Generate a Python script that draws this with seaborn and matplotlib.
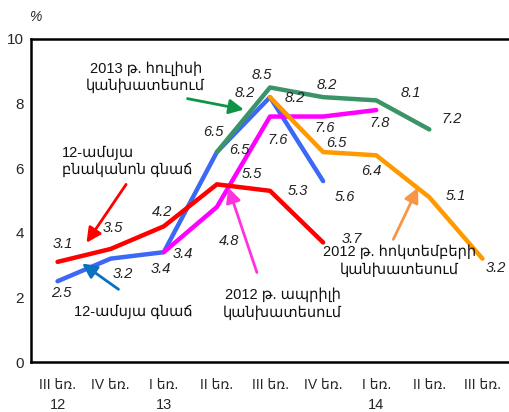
import pandas as pd
import numpy as np
import matplotlib
matplotlib.use('Agg')
import matplotlib.pyplot as plt
import matplotlib.transforms as mtransforms
import seaborn as sns

sns.set_style('white')
plt.rcParams['font.family'] = ['Liberation Sans', 'DejaVu Sans']

# --- data ---
quarters = ['III եռ.', 'IV եռ.', 'I եռ.', 'II եռ.', 'III եռ.',
            'IV եռ.', 'I եռ.', 'II եռ.', 'III եռ.']
years = {0: '12', 2: '13', 6: '14'}

core_x = [0, 1, 2, 3, 4, 5]
core_y = [3.1, 3.5, 4.2, 5.5, 5.3, 3.7]

cpi_x = [0, 1, 2, 3, 4, 5]
cpi_y = [2.5, 3.2, 3.4, 6.5, 8.2, 5.6]

apr12_x = [2, 3, 4, 5, 6]
apr12_y = [3.4, 4.8, 7.6, 7.6, 7.8]

jul13_x = [3, 4, 5, 6, 7]
jul13_y = [6.5, 8.5, 8.2, 8.1, 7.2]

oct12_x = [4, 5, 6, 7, 8]
oct12_y = [8.2, 6.5, 6.4, 5.1, 3.2]

series = [
    ('cpi', cpi_x, cpi_y, '#3d68f5'),
    ('apr12', apr12_x, apr12_y, '#ff00ff'),
    ('oct12', oct12_x, oct12_y, '#ff9900'),
    ('jul13', jul13_x, jul13_y, '#3a9467'),
    ('core', core_x, core_y, '#ff0000'),
]

# label offsets in pixels (dx, dy) for each point
offsets = {
    'core': [(5, 18), (2, 21), (-2, 14), (35, 10), (28, 0), (29, 3)],
    'cpi': [(4, -12), (12, -15), (-3, -17), (22, 2), (-25, 4), (22, -16)],
    'apr12': [(19, -2), (12, -34), (8, -23), (2, -11), (3, -13)],
    'jul13': [(-4, 20), (-8, 12), (4, 12), (35, 7), (22, 10)],
    'oct12': [(25, -1), (13, 9), (-5, -16), (27, 1), (13, -9)],
}

frames = []
for name, xs, ys, col in series:
    frames.append(pd.DataFrame({'q': xs, 'val': ys, 'series': name}))
df = pd.concat(frames, ignore_index=True)
palette = {name: col for name, xs, ys, col in series}

fig = plt.figure(figsize=(5.09, 4.12), dpi=100)
ax = fig.add_axes([31 / 509, 50 / 412, 478 / 509, 323 / 412])

sns.lineplot(data=df, x='q', y='val', hue='series', palette=palette,
             hue_order=[s[0] for s in series], linewidth=3.2, legend=False,
             sort=False, ax=ax)

for name, xs, ys, col in series:
    for (x, y), (dx, dy) in zip(zip(xs, ys), offsets[name]):
        ax.annotate(f'{y:.1f}', (x, y), xytext=(dx, dy), textcoords='offset pixels',
                    ha='center', va='center', fontsize=10.5, style='italic',
                    color='#222222')

# annotations with arrows
txt_kw = dict(fontsize=10.5, color='#111111', linespacing=1.25)
ax.text(1.66, 8.82, '2013 թ. հուլիսի\nկանխատեսում', ha='center', va='center',
        multialignment='center', **txt_kw)
ax.annotate('', xy=(3.56, 7.8), xytext=(2.395, 8.17),
            arrowprops=dict(arrowstyle='-|>', color='#0e9444', lw=2, mutation_scale=22))

ax.text(0.083, 6.22, '12-ամսյա\nբնականոն գնաճ', ha='left', va='center',
        multialignment='left', **txt_kw)
ax.annotate('', xy=(0.515, 3.62), xytext=(1.32, 5.57),
            arrowprops=dict(arrowstyle='-|>', color='#ff0000', lw=2, mutation_scale=22))

ax.text(1.417, 1.55, '12-ամսյա գնաճ', ha='center', va='center', **txt_kw)
ax.annotate('', xy=(0.42, 3.1), xytext=(1.19, 2.2),
            arrowprops=dict(arrowstyle='-|>', color='#0a70c0', lw=2, mutation_scale=22))

ax.text(4.24, 1.8, '2012 թ. ապրիլի\nկանխատեսում', ha='center', va='center',
        multialignment='center', **txt_kw)
ax.annotate('', xy=(3.2, 5.48), xytext=(3.77, 2.69),
            arrowprops=dict(arrowstyle='-|>', color='#ff33dd', lw=2, mutation_scale=22))

ax.text(6.44, 3.13, '2012 թ. հոկտեմբերի\nկանխատեսում', ha='center', va='center',
        multialignment='center', **txt_kw)
ax.annotate('', xy=(6.81, 5.48), xytext=(6.3, 3.72),
            arrowprops=dict(arrowstyle='-|>', color='#f79646', lw=2, mutation_scale=22))

# axes styling
ax.set_xlim(-0.5, 8.5)
ax.set_ylim(0, 10)
ax.set_yticks(np.arange(0, 11, 2))
ax.set_yticklabels([str(v) for v in range(0, 11, 2)], fontsize=11)
ax.set_xticks(range(len(quarters)))
ax.set_xticklabels(quarters, fontsize=10)
ax.set_xticks(np.arange(-0.5, 9, 1), minor=True)
ax.tick_params(axis='x', which='major', length=0, pad=12)
ax.tick_params(axis='x', which='minor', length=5, width=1.5, direction='out')
ax.tick_params(axis='y', length=3, width=1.5, direction='out', pad=2)
ax.set_xlabel('')
ax.set_ylabel('')
for side in ['left', 'bottom', 'top']:
    ax.spines[side].set_linewidth(1.8)
    ax.spines[side].set_color('black')
ax.spines['right'].set_visible(False)
ax.grid(False)

# year labels under the first quarter of each year
trans = mtransforms.blended_transform_factory(ax.transData, fig.transFigure)
for i, yr in years.items():
    ax.text(i, 1 - 405 / 412, yr, transform=trans, ha='center', va='center',
            fontsize=10.5)

fig.text(35 / 509, 1 - 17 / 412, '%', fontsize=10, style='italic', ha='center', va='center')

fig.savefig('out.png', dpi=100)
